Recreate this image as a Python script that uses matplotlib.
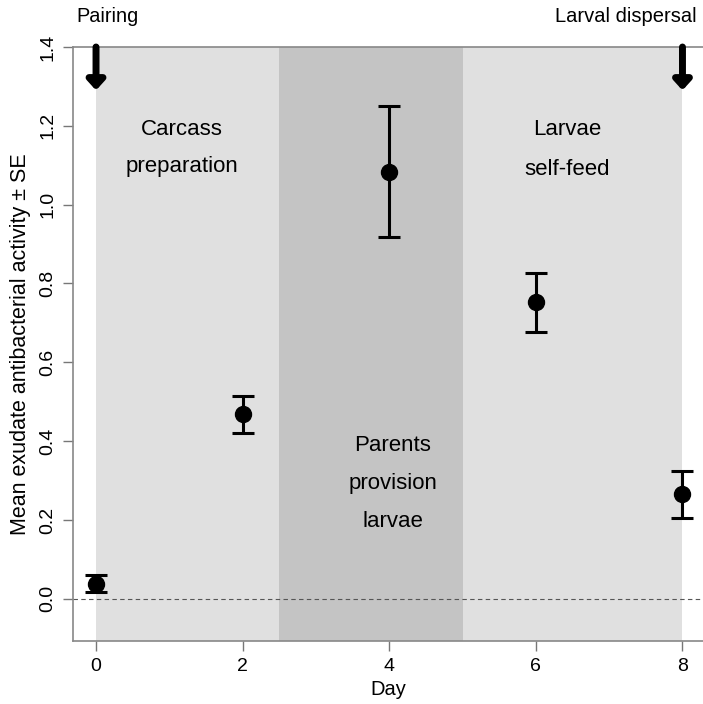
import matplotlib
matplotlib.use("Agg")
import matplotlib.pyplot as plt

plt.rcParams['font.family'] = ['Liberation Sans', 'DejaVu Sans']

days = [0, 2, 4, 6, 8]
means = [0.038, 0.469, 1.083, 0.753, 0.266]
upper = [0.060, 0.515, 1.250, 0.827, 0.325]
lower = [0.017, 0.421, 0.918, 0.677, 0.205]
yticks = [0.0, 0.2, 0.4, 0.6, 0.8, 1.0, 1.2, 1.4]
xticks = [0, 2, 4, 6, 8]
phases = [(0, 2.5, '#e0e0e0'), (2.5, 5, '#c4c4c4'), (5, 8, '#e0e0e0')]
arrow_days = [0, 8]
arrow_tip = 1.29

fig = plt.figure(figsize=(7.03, 7.04), dpi=100)
ax = fig.add_axes([73/703, 1-641/704, 1-73/703, (641-47)/704])
ax.set_xlim(-0.314, 8.28)
ax.set_ylim(-0.107, 1.4)

for x0, x1, c in phases:
    ax.axvspan(x0, x1, color=c, lw=0, zorder=0)

ax.axhline(0, color='#555555', lw=0.8, ls=(0, (4, 3)), zorder=1)

yerr = [[m - l for m, l in zip(means, lower)], [u - m for m, u in zip(means, upper)]]
ax.errorbar(days, means, yerr=yerr, fmt='o', color='black', ms=11.5,
            elinewidth=2.2, capsize=8, capthick=2.2, zorder=3)

for d in arrow_days:
    ax.annotate('', xy=(d, arrow_tip), xytext=(d, 1.4),
                arrowprops=dict(arrowstyle='-|>,head_width=0.5,head_length=0.55',
                                lw=5, color='black', shrinkA=0, shrinkB=0),
                zorder=4)

fs_in = 16
ax.text(1.17, 1.19, 'Carcass', ha='center', va='center', fontsize=fs_in)
ax.text(1.17, 1.098, 'preparation', ha='center', va='center', fontsize=fs_in)
ax.text(4.05, 0.39, 'Parents', ha='center', va='center', fontsize=fs_in)
ax.text(4.05, 0.292, 'provision', ha='center', va='center', fontsize=fs_in)
ax.text(4.05, 0.195, 'larvae', ha='center', va='center', fontsize=fs_in)
ax.text(6.43, 1.19, 'Larvae', ha='center', va='center', fontsize=fs_in)
ax.text(6.43, 1.09, 'self-feed', ha='center', va='center', fontsize=fs_in)

fig.text(107/703, 1-17/704, 'Pairing', ha='center', va='center', fontsize=14.3)
fig.text(697/703, 1-17/704, 'Larval dispersal', ha='right', va='center', fontsize=14.5)

ax.set_xticks(xticks)
ax.set_xticklabels([str(t) for t in xticks])
ax.set_yticks(yticks)
ax.set_yticklabels([f'{t:.1f}' for t in yticks], rotation=90, va='center')
ax.tick_params(axis='both', colors='#777777', labelcolor='black', labelsize=14,
               length=7, width=1)
ax.tick_params(axis='x', pad=5)
ax.tick_params(axis='y', pad=5)

for s in ['left', 'bottom', 'top']:
    ax.spines[s].set_color('#888888')
    ax.spines[s].set_linewidth(1.2)
ax.spines['right'].set_visible(False)

ax.set_xlabel('Day', fontsize=14.5, labelpad=4)
ax.set_ylabel('Mean exudate antibacterial activity ± SE', fontsize=15.5, labelpad=6)

fig.savefig('out.png', dpi=100)
